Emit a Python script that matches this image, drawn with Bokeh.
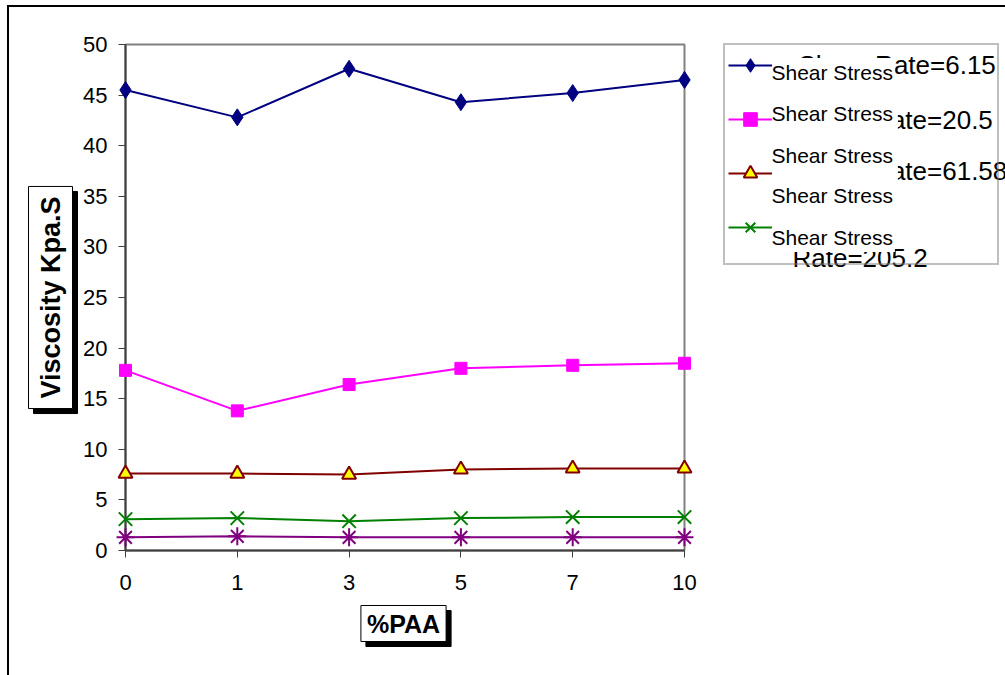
import math
from bokeh.plotting import figure
from bokeh.models import Range1d, FixedTicker, Label, Legend, LegendItem
from bokeh.embed import file_html
from bokeh.resources import INLINE

categories = ["0", "1", "3", "5", "7", "10"]
rate_6_15 = [45.5, 42.8, 47.6, 44.3, 45.2, 46.5]
rate_20_5 = [17.8, 13.8, 16.4, 18.0, 18.3, 18.5]
rate_61_58 = [7.6, 7.6, 7.5, 8.0, 8.1, 8.1]
rate_205_2 = [3.1, 3.2, 2.9, 3.2, 3.3, 3.3]
series_5 = [1.3, 1.4, 1.3, 1.3, 1.3, 1.3]
y_ticks = list(range(0, 51, 5))
big_names = ["Shear Rate=6.15", "Shear Rate=20.5", "Shear Rate=61.58", "Rate=205.2"]

FONT = "Liberation Sans"
n = len(categories)
xs = list(range(n))
y_lo, y_hi = y_ticks[0], y_ticks[-1]

# page layout (pixels)
CAN_L, CAN_T, CAN_R, CAN_B = 9, 7, 1005, 675
PL, PR, PT, PB = 125, 684, 44, 550          # plot area
px_x = (PR - PL) / (n - 1)
px_y = (PB - PT) / (y_hi - y_lo)
x_start = -(PL - CAN_L) / px_x
x_end = (n - 1) + (CAN_R - PR) / px_x
y_start = y_lo - (CAN_B - PB) / px_y
y_end = y_hi + (PT - CAN_T) / px_y

p = figure(frame_width=CAN_R - CAN_L, frame_height=CAN_B - CAN_T, min_border=0,
           x_range=Range1d(x_start, x_end), y_range=Range1d(y_start, y_end),
           output_backend="svg", toolbar_location=None,
           margin=(5, 0, 0, 7),
           styles={"border-left": "2px solid black", "border-top": "2px solid black"})
p.background_fill_color = "white"
p.border_fill_color = "white"
p.outline_line_color = None
p.xgrid.visible = False
p.ygrid.visible = False

# plot-area border (grey top and right)
p.quad(left=[xs[0]], right=[xs[-1]], bottom=[y_lo], top=[y_hi], fill_color=None,
       line_color="#808080", line_width=2)

for ax in (p.xaxis[0], p.yaxis[0]):
    ax.axis_line_color = "#404040"
    ax.axis_line_width = 2
    ax.major_tick_line_color = "#404040"
    ax.major_tick_line_width = 1
    ax.major_tick_out = 7
    ax.major_tick_in = 0
    ax.minor_tick_out = 0
    ax.minor_tick_in = 0
    ax.major_label_text_font = FONT
    ax.major_label_text_font_size = "22px"
    ax.major_label_text_color = "black"

p.yaxis.ticker = FixedTicker(ticks=y_ticks)
p.yaxis.fixed_location = xs[0]
p.yaxis.bounds = (y_lo, y_hi)
p.yaxis.major_label_standoff = 11
p.xaxis.ticker = FixedTicker(ticks=xs)
p.xaxis.fixed_location = y_lo
p.xaxis.bounds = (xs[0], xs[-1])
p.xaxis.major_label_overrides = {i: c for i, c in enumerate(categories)}
p.xaxis.major_label_standoff = 17

l1 = p.line(xs, rate_6_15, line_color="#000080", line_width=2)
m1 = p.scatter(xs, rate_6_15, marker="diamond", size=17,
               fill_color="#000080", line_color="#000080", level="annotation")
l2 = p.line(xs, rate_20_5, line_color="#FF00FF", line_width=2)
m2 = p.scatter(xs, rate_20_5, marker="square", size=12, fill_color="#FF00FF",
               line_color="#FF00FF", level="annotation")
l3 = p.line(xs, rate_61_58, line_color="#800000", line_width=2)
m3 = p.scatter(xs, rate_61_58, marker="triangle", size=14, fill_color="#FFFF00",
               line_color="#800000", line_width=2, level="annotation")
l4 = p.line(xs, rate_205_2, line_color="#008000", line_width=2)
m4 = p.scatter(xs, rate_205_2, marker="x", size=19, line_color="#008000", line_width=2,
               level="annotation")
l5 = p.line(xs, series_5, line_color="#800080", line_width=2)
m5 = p.scatter(xs, series_5, marker="asterisk", size=18, line_color="#800080", line_width=2,
               level="annotation")


def sx(x):
    return x - CAN_L


def sy(y):
    return CAN_B - y


legend = Legend(items=[
    LegendItem(label=" ", renderers=[l1, m1]),
    LegendItem(label=" ", renderers=[l2, m2]),
    LegendItem(label=" ", renderers=[l3, m3]),
    LegendItem(label=" ", renderers=[l4, m4]),
], location=(sx(723), sy(265)), orientation="vertical",
    glyph_width=44, glyph_height=34, label_height=34, label_width=222, spacing=20,
    padding=3, margin=0, label_standoff=0,
    border_line_color="#808080", border_line_width=2,
    background_fill_color="white", background_fill_alpha=0,
    title=" ", title_location="below", title_text_font_size="10px", title_standoff=5)
p.add_layout(legend, "center")

# overlapping legend texts (as in the source image)
big_pos = [(798, 64), (795, 119), (795, 170), (792, 257)]
for name, (bx, by) in zip(big_names, big_pos):
    p.add_layout(Label(x=sx(bx), y=sy(by), x_units="screen", y_units="screen", text=name,
                       text_font=FONT, text_font_size="26px", text_baseline="middle",
                       text_align="left", text_color="black"))

# (text centre y, pad top, pad bottom, pad right)
small = [(72, 3, 6, 2), (113, 6, 8, 5), (155, 6, 14, 5), (195, 14, 6, 2), (237, 6, 3, 2)]
for yy, pt, pb, pr in small:
    p.add_layout(Label(x=sx(771), y=sy(yy + (pb - pt) / 2), x_units="screen", y_units="screen",
                       text="Shear Stress",
                       text_font=FONT, text_font_size="21px", text_baseline="middle",
                       text_align="left", text_color="black",
                       background_fill_color="white", background_fill_alpha=1,
                       padding=dict(left=0, right=pr, top=pt, bottom=pb)))


def boxed(text, cx, cy, angle, size, pad):
    for dx, fill in ((5, "black"), (0, "white")):
        p.add_layout(Label(x=sx(cx + dx), y=sy(cy + dx), x_units="screen", y_units="screen",
                           text=text, text_font=FONT, text_font_size=size, text_font_style="bold",
                           angle=angle, text_align="center", text_baseline="middle",
                           text_color="black", background_fill_color=fill,
                           background_fill_alpha=1, border_line_color="black",
                           border_line_width=1, padding=pad))


boxed("Viscosity Kpa.S", 50, 297, math.pi / 2, "27px", dict(left=10, right=10, top=7, bottom=7))
boxed("%PAA", 403, 623, 0, "25px", dict(left=6, right=6, top=4, bottom=4))

open("out.html", "w").write(file_html(p, INLINE))
